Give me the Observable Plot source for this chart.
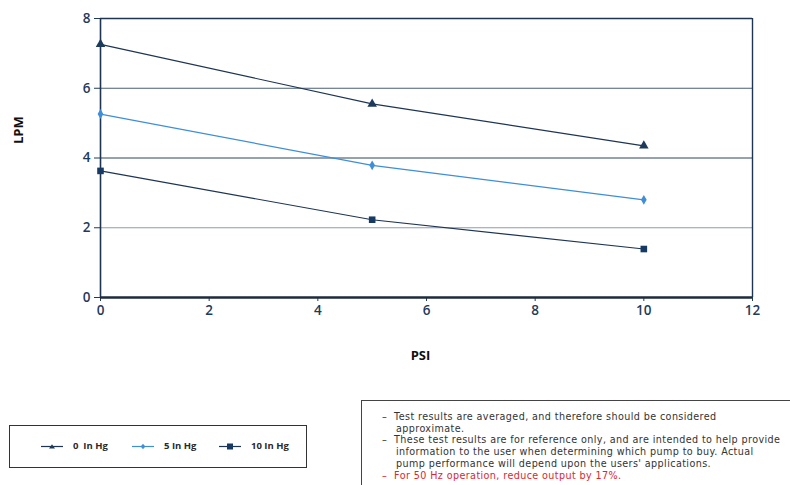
<!DOCTYPE html>
<html>
<head>
<meta charset="utf-8">
<script src="https://cdn.jsdelivr.net/npm/d3@7"></script>
<script src="https://cdn.jsdelivr.net/npm/@observablehq/plot@0.6"></script>
<style>
  html, body { margin:0; padding:0; background:#fff; }
  #wrap { position:relative; width:790px; height:485px; overflow:hidden; font-family: "Open Sans", Lato, sans-serif; }
  #legend { position:absolute; left:9px; top:425px; width:298px; height:43px; border:1px solid #333; box-sizing:border-box; }
  .li { position:absolute; top:14px; font-size:9.5px; font-weight:700; color:#2a2a2a; display:flex; align-items:center; white-space:pre; line-height:12px; }
  .li svg { margin-right:10px; }
  #note { position:absolute; left:361px; top:400px; width:460px; height:100px; border-left:1px solid #444; border-top:1px solid #444; box-sizing:border-box; font-family:"DejaVu Sans", sans-serif; font-size:9.6px; letter-spacing:0.4px; color:#333; line-height:11.7px; padding-top:10px; }
  #note .r { padding-left:34px; text-indent:-14px; white-space:nowrap; }
  #note .red { color:#d9272e; }
</style>
</head>
<body>
<div id="wrap">
  <div id="chart"></div>
  <div id="legend"></div>
  <div id="note">
    <div class="r">–&nbsp;&nbsp;Test results are averaged, and therefore should be considered<br>approximate.</div>
    <div class="r">–&nbsp;&nbsp;These test results are for reference only, and are intended to help provide<br>information to the user when determining which pump to buy. Actual<br>pump performance will depend upon the users' applications.</div>
    <div class="r red">–&nbsp;&nbsp;For 50 Hz operation, reduce output by 17%.</div>
  </div>
</div>
<script>
const psi = [0, 5, 10];
const series = ["0  In Hg", "5 In Hg", "10 In Hg"];
const lpm0 = [7.26, 5.55, 4.35];
const lpm5 = [5.26, 3.79, 2.80];
const lpm10 = [3.63, 2.23, 1.39];
const xTicks = [0, 2, 4, 6, 8, 10, 12];
const yTicks = [0, 2, 4, 6, 8];
const gridVals = [2, 4, 6];

const lineColors = ["#1d3553", "#3e8ed8", "#1d3553"];
const markColors = ["#1b3a5c", "#3e8ed8", "#163a63"];
const symbols = ["triangle", "diamond", "square"];
const radii = [3.6, 2.6, 4];
const gridColors = ["#8d9cae", "#2f4560", "#4a5f78"];

const all = [lpm0, lpm5, lpm10];
const data = [];
series.forEach((s, i) => psi.forEach((p, j) => data.push({series: s, idx: i, psi: p, lpm: all[i][j]})));

const chart = Plot.plot({
  width: 790, height: 380,
  marginLeft: 100, marginRight: 38, marginTop: 18, marginBottom: 83,
  style: {fontFamily: "'Open Sans', Lato, sans-serif", fontSize: "13.5px", color: "#1f3b5b", background: "white", overflow: "visible"},
  x: {domain: [0, 12], ticks: xTicks, label: null},
  y: {domain: [0, 8], ticks: yTicks, label: null},
  marks: [
    Plot.ruleY(gridVals, {y: d => d, stroke: (d, i) => gridColors[i], strokeWidth: 1}),
    Plot.ruleY([8], {stroke: "#1d3553", strokeWidth: 1.6}),
    Plot.ruleX([12], {stroke: "#1d3553", strokeWidth: 1.4}),
    Plot.axisX({ticks: xTicks, tickSize: 4, tickPadding: 4, fontWeight: 600, stroke: "#1f3b5b", fill: "#1f3b5b", label: null}),
    Plot.axisY({ticks: yTicks, tickSize: 6, tickPadding: 4, fontWeight: 600, stroke: "#1f3b5b", fill: "#1f3b5b", label: null}),
    Plot.ruleX([0], {stroke: "#1d3553", strokeWidth: 1.6}),
    Plot.ruleY([0], {stroke: "#1e2b3c", strokeWidth: 2.6}),
    Plot.line(data, {x: "psi", y: "lpm", z: "series", stroke: d => lineColors[d.idx], strokeWidth: 1.2}),
    Plot.dot(data, {x: "psi", y: "lpm", symbol: d => symbols[d.idx], fill: d => markColors[d.idx], r: d => radii[d.idx], stroke: "none"}),
    Plot.text(["PSI"], {frameAnchor: "bottom", text: d => d, dx: -6, dy: 62, fontWeight: 700, fill: "#111", fontSize: 13}),
    Plot.text(["LPM"], {frameAnchor: "left", text: d => d, rotate: -90, dx: -82, dy: -14, fontWeight: 700, fill: "#111", fontSize: 13})
  ]
});
document.getElementById("chart").appendChild(chart);

// legend
const legend = document.getElementById("legend");
const lx = [31, 122, 209];
const symPaths = [
  '<path d="M11,2.2 L14,6.6 L8,6.6 Z" fill="#1b3a5c"/>',
  '<path d="M11,1.8 L13.3,4.5 L11,7.2 L8.7,4.5 Z" fill="#3e8ed8"/>',
  '<rect x="8" y="1.5" width="6" height="6" fill="#163a63"/>'
];
series.forEach((s, i) => {
  const el = document.createElement("div");
  el.className = "li";
  el.style.left = lx[i] + "px";
  el.innerHTML = `<svg width="22" height="9"><line x1="0" y1="4.5" x2="22" y2="4.5" stroke="${lineColors[i]}" stroke-width="1.2"/>${symPaths[i]}</svg>`;
  const t = document.createElement("span");
  t.textContent = s;
  el.appendChild(t);
  legend.appendChild(el);
});
</script>
</body>
</html>
